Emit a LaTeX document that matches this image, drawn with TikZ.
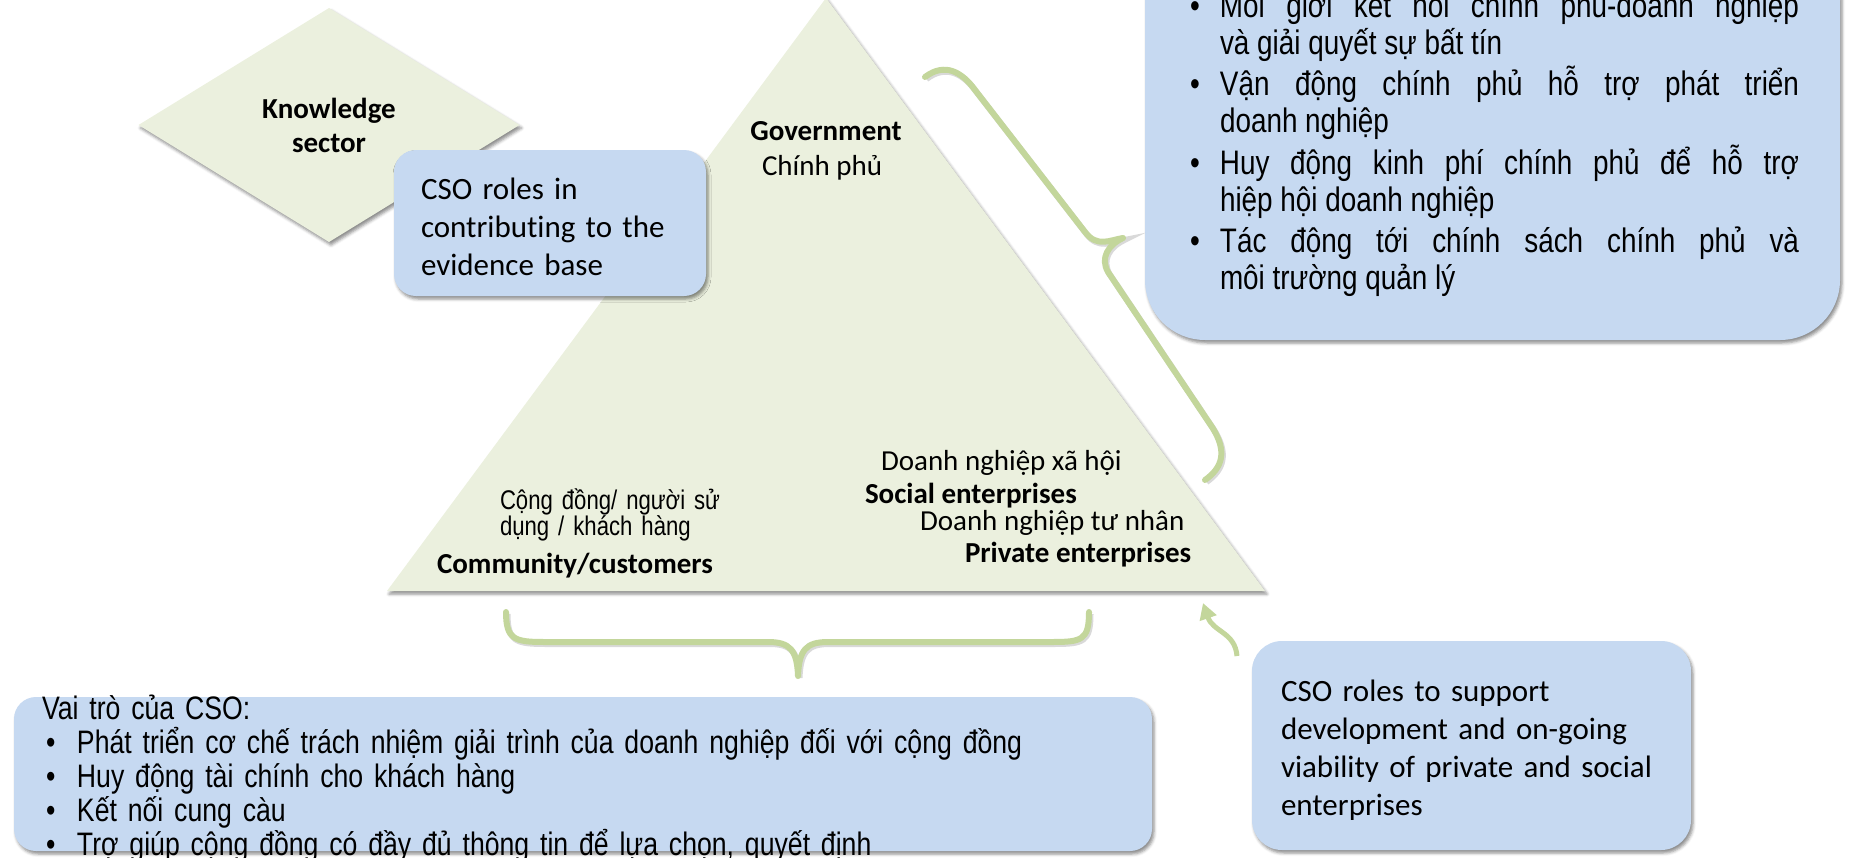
\documentclass[tikz,border=0pt]{standalone}
\usepackage{fontspec}
\setmainfont{Carlito}[Ligatures=NoCommon]
\newfontfamily\narrowfont[FakeStretch=0.82]{Liberation Sans}
\usetikzlibrary{arrows.meta,shapes.geometric,shadows.blur}
\definecolor{csoblue}{RGB}{198,217,241}
\definecolor{sectorgreen}{RGB}{235,240,222}
\definecolor{bracegreen}{RGB}{195,214,155}
\newcommand{\roleitem}{\hangindent=30pt\hangafter=1\makebox[30pt][l]{•}}
\newcommand{\rolebullet}{\makebox[31pt][l]{•}}

\begin{document}
\begin{tikzpicture}[x=1pt, y=-1pt,
    every node/.style={inner sep=0pt, outer sep=0pt},
    softshadow/.style={blur shadow={shadow xshift=2pt, shadow yshift=-3pt,
        shadow blur radius=3pt, shadow opacity=45}},
    rolebox/.style={fill=csoblue, rounded corners=#1, softshadow},
    brace/.style={draw=bracegreen, line width=6pt, line cap=round, line join=round,
        preaction={draw=black, opacity=0.15, line width=6pt,
          transform canvas={xshift=1.5pt, yshift=-2pt}}},
    flow/.style={draw=bracegreen, line width=5pt, -{Triangle[width=17pt,length=16pt]}},
    sectorname/.style={font=\fontsize{29}{34}\selectfont\bfseries, anchor=base west},
    sectorsub/.style={font=\fontsize{29}{34}\selectfont, anchor=base west},
    roletext/.style={font=\fontsize{31}{38}\selectfont, anchor=base west,
        align=left, text width=#1}]
  \useasboundingbox (0,0) rectangle (1852,857);
  % sectors
  \fill[sectorgreen, softshadow] (387,591) -- (826,-2) -- (1265,591) -- cycle;
  \node[shape=diamond, fill=sectorgreen, softshadow, minimum width=381pt,
        minimum height=234pt, font=\fontsize{29}{34}\selectfont\bfseries,
        align=center] (know) at (329,125) {Knowledge\\sector};
  % CSO role boxes
  \node[rolebox=22pt, minimum width=312pt, minimum height=146pt] (evidbox) at (550,223) {};
  \node[rolebox=60pt, minimum width=695pt, minimum height=402pt] (govbox) at (1492.5,139) {};
  \node[rolebox=22pt, minimum width=1138pt, minimum height=154pt] (commbox) at (583,774) {};
  \node[rolebox=30pt, minimum width=439pt, minimum height=209pt] (suppbox) at (1471.5,745.5) {};
  % braces and arrow
  \draw[brace] (925,77) .. controls (945,62) and (962,72) .. (975,90) -- (1085,232)
    .. controls (1097,248) and (1110,240) .. (1123,238)
    .. controls (1108,245) and (1100,258) .. (1108,272) -- (1212,427)
    .. controls (1228,452) and (1222,468) .. (1205,480);
  \draw[brace] (506,612) .. controls (506,640) and (515,642) .. (545,642) -- (768,642)
    .. controls (790,642) and (797,650) .. (798,676)
    .. controls (799,650) and (806,642) .. (828,642) -- (1052,642)
    .. controls (1082,642) and (1089,640) .. (1089,612);
  \coordinate (supptail) at (1237,656);
  \coordinate (tricorner) at (1203,603);
  \draw[flow] (supptail) .. controls (1235,632) and (1213,632) .. (tricorner);
  % sector labels
  \node[sectorname, anchor=base] (gov) at (826,140) {Government};
  \node[sectorsub] (govvi) at (762,175) {Chính phủ};
  \node[sectorsub] (socvi) at (881,470) {Doanh nghiệp xã hội};
  \node[sectorname] (soc) at (865,503) {Social enterprises};
  \node[sectorsub] (privvi) at (920,530) {Doanh nghiệp tư nhân};
  \node[sectorname] (priv) at (965,562) {Private enterprises};
  \node[font=\narrowfont\fontsize{27}{25}\selectfont, anchor=base west, align=left,
        text width=230pt] (commvi) at (500,509) {Cộng đồng/ người sử\\dụng / khách hàng};
  \node[sectorname] (comm) at (437,573) {Community/customers};
  % role texts
  \node[roletext=280pt] (evidtext) at (421,199) {CSO roles in\\contributing to the\\evidence base};
  \node[roletext=400pt] (supptext) at (1281,701)
    {CSO roles to support\\development and on-going\\viability of private and social\\enterprises};
  \node[font=\narrowfont\fontsize{34}{37}\selectfont, anchor=base west, text width=609pt,
        align=justify] (govlist) at (1190,17) {\setlength{\parskip}{4.5pt}%
    \roleitem Môi giới kết nối chính phủ-doanh nghiệp\linebreak và giải quyết sự bất tín\par
    \roleitem Vận động chính phủ hỗ trợ phát triển\linebreak doanh nghiệp\par
    \roleitem Huy động kinh phí chính phủ để hỗ trợ\linebreak hiệp hội doanh nghiệp\par
    \roleitem Tác động tới chính sách chính phủ và\linebreak môi trường quản lý\par};
  \node[font=\narrowfont\fontsize{32.5}{34}\selectfont, anchor=base west, text width=1100pt,
        align=left] (commlist) at (42,719) {Vai trò của CSO:\\
    \hspace*{4pt}\rolebullet Phát triển cơ chế trách nhiệm giải trình của doanh nghiệp đối với cộng đồng\\
    \hspace*{4pt}\rolebullet Huy động tài chính cho khách hàng\\
    \hspace*{4pt}\rolebullet Kết nối cung càu\\
    \hspace*{4pt}\rolebullet Trợ giúp cộng đồng có đầy đủ thông tin để lựa chọn, quyết định};
\end{tikzpicture}
\end{document}
